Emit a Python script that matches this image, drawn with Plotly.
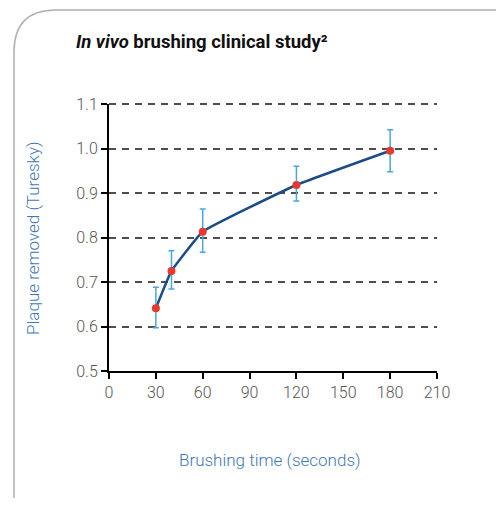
import plotly.graph_objects as go

# Data
times = [30, 40, 60, 120, 180]
plaque = [0.641, 0.725, 0.813, 0.918, 0.995]
err_plus = [0.047, 0.045, 0.051, 0.042, 0.047]
err_minus = [0.044, 0.041, 0.046, 0.036, 0.047]
x_ticks = [0, 30, 60, 90, 120, 150, 180, 210]
y_ticks = [0.5, 0.6, 0.7, 0.8, 0.9, 1.0, 1.1]
y_tick_labels = ["0.5", "0.6", "0.7", "0.8", "0.9", "1.0", "1.1"]

OFF = 8  # page body margin
W, H = 504 - 2 * OFF, 506 - 2 * OFF
PW, PH = 328, 267
L, T = 109 - OFF, 104 - OFF
R, B = W - L - PW, H - T - PH

def px(x):
    return (x - OFF - L) / PW

def py(y):
    return (T + PH - (y - OFF)) / PH

fig = go.Figure()
fig.add_trace(go.Scatter(
    x=times, y=plaque, mode="lines",
    line=dict(color="#1b4c89", width=2.5, shape="spline", smoothing=0.3),
    hoverinfo="skip", showlegend=False,
))
fig.add_trace(go.Scatter(
    x=times, y=plaque, mode="markers",
    marker=dict(color="#e8392f", size=8),
    error_y=dict(type="data", symmetric=False, array=err_plus, arrayminus=err_minus,
                 color="#4ba6dc", thickness=1.5, width=3),
    showlegend=False,
))

# card outline
card = (f"M {px(14)},{py(520)} L {px(14)},{py(52)} Q {px(14)},{py(10)} {px(56)},{py(10)} "
        f"L {px(520)},{py(10)}")

fig.update_layout(
    width=W, height=H,
    margin=dict(l=L, r=R, t=T, b=B),
    paper_bgcolor="white", plot_bgcolor="white",
    font=dict(family="Roboto, sans-serif", color="#555555"),
    shapes=[
        dict(type="path", xref="paper", yref="paper", path=card,
             line=dict(color="#b5afaa", width=1.5), layer="below"),
        # top gridline (plotly omits the gridline on the plot edge)
        dict(type="line", xref="paper", yref="paper", x0=0, x1=1, y0=1, y1=1,
             line=dict(color="#4d4d4d", width=2, dash="7px,6px"), layer="below"),
    ],
    annotations=[
        dict(text="<b><i>In vivo</i> brushing clinical study²</b>", xref="paper", yref="paper",
             x=px(74), y=py(42), xanchor="left", yanchor="middle", showarrow=False,
             font=dict(size=18.5, color="#111111", family="Roboto, sans-serif")),
        dict(text="Plaque removed (Turesky)", xref="paper", yref="paper",
             x=px(33), y=py(238), xanchor="center", yanchor="middle", textangle=-90,
             showarrow=False, font=dict(size=17, color="#3f78b5", weight=300)),
        dict(text="Brushing time (seconds)", xref="paper", yref="paper",
             x=px(270), y=py(460), xanchor="center", yanchor="middle",
             showarrow=False, font=dict(size=17, color="#3f78b5", weight=300)),
    ],
)

fig.update_xaxes(
    range=[0, 210], tickvals=x_ticks, ticktext=[str(v) for v in x_ticks],
    showgrid=False, zeroline=False, showline=True, linecolor="black", linewidth=2,
    ticks="outside", ticklen=6, tickwidth=2, tickcolor="black",
    tickfont=dict(size=16, color="#555555", weight=300),
)
fig.update_yaxes(
    range=[0.5, 1.1], tickvals=y_ticks, ticktext=y_tick_labels,
    showgrid=True, gridcolor="#4d4d4d", gridwidth=2, griddash="7px,6px",
    zeroline=False, showline=True, linecolor="black", linewidth=2,
    ticks="outside", ticklen=6, tickwidth=2, tickcolor="black",
    tickfont=dict(size=16, color="#555555", weight=300),
)

fig.write_html("out.html")
